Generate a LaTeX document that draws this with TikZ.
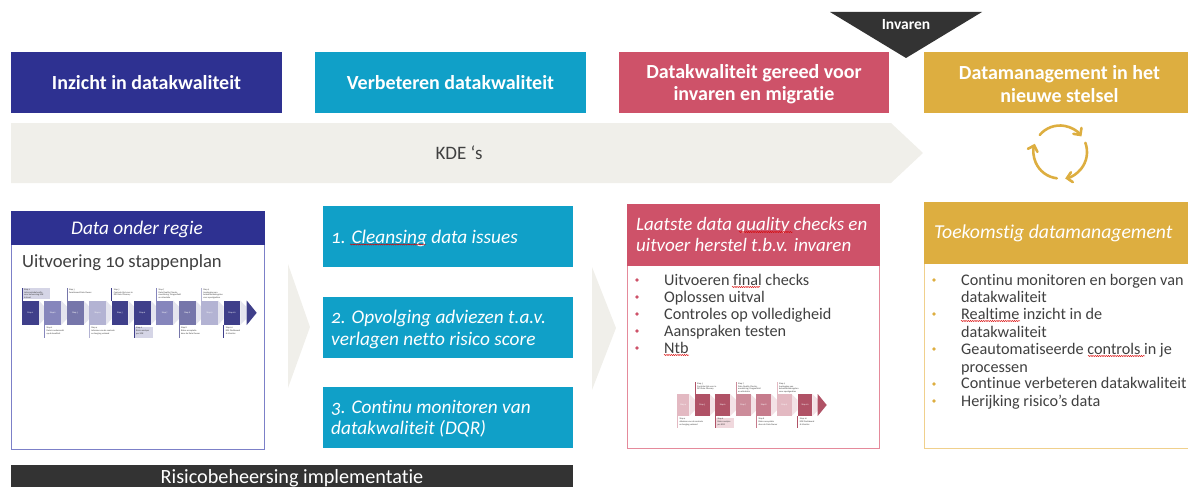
\documentclass[tikz,border=0pt]{standalone}
\usepackage{fontspec}
\setmainfont[Numbers=OldStyle,Ligatures=NoCommon]{Carlito}
\usetikzlibrary{decorations.pathmorphing,arrows.meta}
\definecolor{cblue}{HTML}{2E3191}
\definecolor{cteal}{HTML}{10A0C8}
\definecolor{cred}{HTML}{CE5269}
\definecolor{cgold}{HTML}{DDAE40}
\definecolor{cgrey}{HTML}{F0EFEA}
\definecolor{cdark}{HTML}{333333}
\definecolor{ctext}{HTML}{404040}
\definecolor{lblue}{HTML}{7C80C8}
\definecolor{lred}{HTML}{E58A9B}
\definecolor{lgold}{HTML}{F0D08C}
\definecolor{bA}{HTML}{3F3F8A}
\definecolor{bB}{HTML}{8686BC}
\definecolor{bC}{HTML}{7676AA}
\definecolor{bD}{HTML}{B3B3D3}
\definecolor{bH}{HTML}{D5D5E6}
\definecolor{bG}{HTML}{E4E4EE}
\definecolor{rA}{HTML}{B05266}
\definecolor{rB}{HTML}{CC8C9A}
\definecolor{rC}{HTML}{C67B8C}
\definecolor{rD}{HTML}{E3B9C2}
\definecolor{rH}{HTML}{F0D8DD}
\definecolor{rG}{HTML}{F3E2E6}
\tikzset{
  x=1pt,y=-1pt,
  head/.style={text=white,font=\fontsize{20}{22.5}\selectfont\bfseries,align=center,inner sep=0},
  ital/.style={text=white,font=\fontsize{19.3}{21}\selectfont\itshape,anchor=base west,inner sep=0},
  listtext/.style={text=ctext,font=\fontsize{16.2}{18}\selectfont,anchor=base west,inner sep=0},
  wavy/.style={draw=red!85!black,line width=.45pt,decorate,decoration={snake,amplitude=.55,segment length=2.2}},
  stepfont/.style={font=\fontsize{2.3}{2.9}\selectfont,inner sep=0},
  cyc/.style={draw=cgold,line width=2.6pt,line cap=round,-{Straight Barb[length=5pt,width=10pt,line cap=round]}},
}
\newcommand\stap[7]{% id, x, fill, number, side(u/d), callout fill, text
  \fill[\gapcol] (#2+\SW,\ST) -- (#2+\SP,\ST+6) -- (#2+\SP,\SB-6) -- (#2+\SW,\SB) -- cycle;
  \fill[#3] (#2,\ST) rectangle (#2+\SW,\SB);
  \node[stepfont,text=white] (#1) at (#2+\SW/2,\ST/2+\SB/2) {Stap #4};
  \if#5u
    \fill[#6] (#2,\SA) rectangle (#2+\calw,\ST-1.5);
    \draw[draw=#3,line width=.5pt] (#2,\SA) -- (#2,\ST);
    \node[stepfont,text=ctext,anchor=north west,align=left] (#1c) at (#2+2,\SA+.5) {Stap #4\\#7};
  \else
    \fill[#6] (#2,\SB+1.5) rectangle (#2+\calw,\SC);
    \draw[draw=#3,line width=.5pt] (#2,\SB) -- (#2,\SC);
    \node[stepfont,text=ctext,anchor=north west,align=left] (#1c) at (#2+2,\SB+2) {Stap #4\\#7};
  \fi
}
\begin{document}
\begin{tikzpicture}
\useasboundingbox (0,0) rectangle (1188,487);
\clip (0,0) rectangle (1188,487);
% top row
\fill[cgrey] (11,123) -- (891,123) -- (923,153) -- (891,183) -- (11,183) -- cycle;
\node[text=ctext,font=\fontsize{19}{21}\selectfont,inner sep=0] (kde) at (459,153) {KDE ‘s};
\fill[cblue] (11,52) rectangle (282,113);
\node[head] (h1) at (146.5,83) {Inzicht in datakwaliteit};
\fill[cteal] (315,52) rectangle (586,113);
\node[head] (h2) at (450.5,83) {Verbeteren datakwaliteit};
\fill[cred] (619,52) rectangle (889,113);
\node[head] (h3) at (754,84) {Datakwaliteit gereed voor\\invaren en migratie};
\fill[cgold] (924,52) rectangle (1188,113);
\node[head] (h4) at (1059.5,84) {Datamanagement in het\\nieuwe stelsel};
\fill[cdark] (830,12) -- (982,12) -- (906,58) -- cycle;
\node[text=white,font=\fontsize{15.5}{17}\selectfont\bfseries,inner sep=0] (inv) at (906,24.5) {Invaren};
% cycle icon
\draw[cyc] (1060,152) ++(-140:26.5) arc[start angle=-140,end angle=-36,radius=26.5];
\draw[cyc] (1060,152) ++(-20:27) arc[start angle=-20,end angle=79,radius=27];
\draw[cyc] (1060,152) ++(97:26.5) arc[start angle=97,end angle=198,radius=26.5];
% chevrons
\fill[cgrey] (288,264) -- (310,327) -- (288,388) -- cycle;
\fill[cgrey] (592,267) -- (616,328) -- (592,390) -- cycle;
% data onder regie
\draw[lblue,line width=1pt,fill=white] (11,211) rectangle (264,449);
\fill[cblue] (10.5,211) rectangle (264.5,245);
\node[text=white,font=\fontsize{19.3}{21}\selectfont\itshape,inner sep=0,anchor=base] (dor) at (137,234) {Data onder regie};
\node[text=ctext,font=\fontsize{18.6}{20}\selectfont,inner sep=0,anchor=base west] (uit) at (22,267) {Uitvoering 10 stappenplan};
% first strip
\def\ST{300.5}\def\SB{325}\def\SW{16.7}\def\SP{22.4}\def\SA{288}\def\SC{337.5}\def\calw{28}
\def\gapcol{bG}
\stap{a1}{22}{bA}{1}{u}{bH}{Informatiebehoefte\\voor beheersing KDE\\in kaart}
\def\calw{19}
\stap{a2}{44.4}{bB}{2}{d}{white}{Data is onderzocht\\op de kwaliteit}
\stap{a3}{66.8}{bC}{3}{u}{white}{Functioneel Data Owner}
\stap{a4}{89.2}{bD}{4}{d}{white}{Adviezen van de controle\\en borging verkend}
\stap{a5}{111.6}{bA}{5}{u}{white}{Controle-lijst voor in\\DPI Data Glossary}
\stap{a6}{134}{bA}{6}{d}{bH}{Risico analyse\\per KDE}
\stap{a7}{156.4}{bB}{7}{u}{white}{Data Quality Checks,\\monitoring, Dragonfield\\en attestatie}
\stap{a8}{178.8}{bC}{8}{d}{white}{Risico acceptatie\\door de Data Owner}
\stap{a9}{201.2}{bD}{9}{u}{white}{Aanlegging van\\beheersmaatregelen\\voor opvolgadvies}
\stap{a10}{223.6}{bA}{10}{d}{white}{KDE Dashboard\\\& Monitor}
\fill[bA] (246.7,300.5) -- (256.7,312.8) -- (246.7,325) -- cycle;
% teal column
\fill[cteal] (323,206) rectangle (573,267);
\node[ital] (t1) at (331,243) {1. Cleansing data issues};
\draw[wavy] (350,244.5) -- (426,244.5);
\fill[cteal] (323,297) rectangle (573,358);
\node[ital] (t2) at (331,323) {2. Opvolging adviezen t.a.v.};
\node[ital] (t2b) at (331,345) {verlagen netto risico score};
\fill[cteal] (323,387) rectangle (573,448);
\node[ital] (t3) at (331,413) {3. Continu monitoren van};
\node[ital] (t3b) at (331,434) {datakwaliteit (DQR)};
\fill[cdark] (11,465) rectangle (573,487);
\node[text=white,font=\fontsize{20.2}{22}\selectfont,inner sep=0,anchor=base] (risk) at (292,483) {Risicobeheersing implementatie};
% red panel
\draw[lred,line width=1pt,fill=white] (627,204) rectangle (879,448);
\fill[cred] (626.5,204) rectangle (879.5,266);
\node[ital,font=\fontsize{19}{21}\selectfont\itshape] (l1) at (636,230) {Laatste data quality checks en};
\node[ital,font=\fontsize{19}{21}\selectfont\itshape] (l2) at (636,251) {uitvoer herstel t.b.v. invaren};
\draw[wavy] (739,232) -- (793,232);
\foreach \y/\n/\t in {285/r1/{Uitvoeren final checks},302/r2/{Oplossen uitval},319/r3/{Controles op volledigheid},336/r4/{Aanspraken testen},353/r5/{Ntb}}{
  \fill[cred] (637,\y-5) circle (1.8);
  \node[listtext] (\n) at (664,\y) {\t};
}
\draw[wavy] (732,287) -- (760,287);
\draw[wavy] (664,355) -- (689,355);
% second strip
\def\ST{394}\def\SB{416}\def\SW{12}\def\SP{17.7}\def\SA{382}\def\SC{428}\def\calw{19}
\def\gapcol{rG}
\stap{b4}{677.3}{rD}{4}{d}{white}{Adviezen van de controle\\en borging verkend}
\def\SW{14.7}\def\SP{20.7}
\stap{b5}{695}{rA}{5}{u}{white}{Controle-lijst voor in\\DPI Data Glossary}
\stap{b6}{715.3}{rA}{6}{d}{rH}{Risico analyse\\per KDE}
\stap{b7}{736}{rB}{7}{u}{white}{Data Quality Checks,\\monitoring, Dragonfield\\en attestatie}
\stap{b8}{756.3}{rC}{8}{d}{white}{Risico acceptatie\\door de Data Owner}
\stap{b9}{777}{rD}{9}{u}{white}{Aanlegging van\\beheersmaatregelen\\voor opvolgadvies}
\stap{b10}{797.7}{rA}{10}{d}{white}{KDE Dashboard\\\& Monitor}
\fill[rA] (817.7,394) -- (826.7,405) -- (817.7,416) -- cycle;
% gold panel
\draw[lgold,line width=1pt,fill=white] (924,202) rectangle (1195,448);
\fill[cgold] (923.5,202) rectangle (1188,264);
\node[ital,font=\fontsize{19.7}{21}\selectfont\itshape] (g0) at (934,238) {Toekomstig datamanagement};
\foreach \y/\n/\t in {285/g1/{Continu monitoren en borgen van},302/g2/{datakwaliteit},319/g3/{Realtime inzicht in de},337/g4/{datakwaliteit},354/g5/{Geautomatiseerde controls in je},372/g6/{processen},388/g7/{Continue verbeteren datakwaliteit},406/g8/{Herijking risico’s data}}{
  \node[listtext] (\n) at (961,\y) {\t};
}
\foreach \y in {280,314,349,384,401}{\fill[cgold] (934,\y) circle (1.8);}
\draw[wavy] (961,321) -- (1020,321);
\draw[wavy] (1088,356) -- (1145,356);
\end{tikzpicture}
\end{document}
